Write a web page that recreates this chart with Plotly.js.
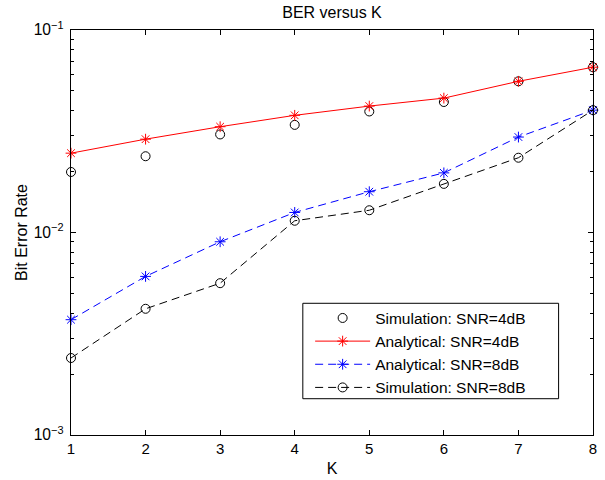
<!DOCTYPE html>
<html>
<head>
<meta charset="utf-8">
<script src="https://cdn.plot.ly/plotly-3.0.1.min.js"></script>
<style>html,body{margin:0;padding:0;background:#fff;}#chart{width:605px;height:480px;}</style>
</head>
<body>
<div id="chart"></div>
<script>
var K = [1, 2, 3, 4, 5, 6, 7, 8];
var simSNR4 = [0.0199, 0.0238, 0.0305, 0.0340, 0.0396, 0.0441, 0.0558, 0.0655];
var anaSNR4 = [0.02465, 0.0289, 0.0333, 0.0379, 0.0421, 0.0461, 0.0558, 0.0655];
var anaSNR8 = [0.00371, 0.00607, 0.00900, 0.01256, 0.0159, 0.0197, 0.0296, 0.0402];
var simSNR8 = [0.00240, 0.00420, 0.00562, 0.01143, 0.01288, 0.01738, 0.0234, 0.0402];
var xTickVals = [1, 2, 3, 4, 5, 6, 7, 8];

var font = 'Liberation Sans, Arial, sans-serif';
var traces = [
  {x: K, y: simSNR4, name: 'Simulation: SNR=4dB', mode: 'markers', type: 'scatter', cliponaxis: false,
   marker: {symbol: 'circle-open', size: 9, color: 'black', line: {color: 'black', width: 1}}},
  {x: K, y: anaSNR4, name: 'Analytical: SNR=4dB', mode: 'lines+markers', type: 'scatter', cliponaxis: false,
   line: {color: '#ff0000', width: 1},
   marker: {symbol: 'asterisk-open', size: 9, color: '#ff0000', line: {color: '#ff0000', width: 1}}},
  {x: K, y: anaSNR8, name: 'Analytical: SNR=8dB', mode: 'lines+markers', type: 'scatter', cliponaxis: false,
   line: {color: '#0000ff', width: 1, dash: '8px,5px'},
   marker: {symbol: 'asterisk-open', size: 9, color: '#0000ff', line: {color: '#0000ff', width: 1}}},
  {x: K, y: simSNR8, name: 'Simulation: SNR=8dB', mode: 'lines+markers', type: 'scatter', cliponaxis: false,
   line: {color: 'black', width: 1, dash: '8px,5px'},
   marker: {symbol: 'circle-open', size: 9, color: 'black', line: {color: 'black', width: 1}}}
];

var layout = {
  width: 605, height: 480,
  margin: {l: 71, r: 12, t: 30, b: 45},
  paper_bgcolor: '#fff', plot_bgcolor: '#fff',
  font: {family: font, size: 16, color: 'black'},
  title: {text: 'BER versus K', font: {family: font, size: 16, color: 'black'}, xref: 'paper', x: 0.5, xanchor: 'center', y: 0.975, yanchor: 'middle'},
  showlegend: true,
  shapes: [{type: 'rect', xref: 'paper', yref: 'paper', x0: 0.4441, x1: 0.9341, y0: 0.0896, y1: 0.3252,
            fillcolor: '#fff', line: {color: 'black', width: 1}, layer: 'above'}],
  legend: {x: 0.4581, y: 0.3299, xanchor: 'left', yanchor: 'top', bgcolor: 'rgba(0,0,0,0)',
           borderwidth: 0, font: {family: font, size: 15.5, color: 'black'},
           itemwidth: 55},
  xaxis: {range: [1, 8], tickvals: xTickVals, ticks: 'inside', ticklen: 5, tickcolor: 'black',
          showgrid: false, zeroline: false, showline: true, linecolor: 'black', linewidth: 1, mirror: 'ticks',
          title: {text: 'K', font: {family: font, size: 16}, standoff: 6},
          tickfont: {family: font, size: 15}},
  yaxis: {type: 'log', range: [-3, -1], dtick: 1, exponentformat: 'power',
          ticks: 'inside', ticklen: 5, tickcolor: 'black', ticklabelstandoff: 4,
          minor: {ticks: 'inside', ticklen: 3, tickcolor: 'black', dtick: 'D1', showgrid: false},
          showgrid: false, zeroline: false, showline: true, linecolor: 'black', linewidth: 1, mirror: 'ticks',
          title: {text: 'Bit Error Rate', font: {family: font, size: 16}, standoff: 2},
          tickfont: {family: font, size: 12.5}}
};
Plotly.newPlot('chart', traces, layout, {displayModeBar: false, staticPlot: true});
</script>
</body>
</html>
